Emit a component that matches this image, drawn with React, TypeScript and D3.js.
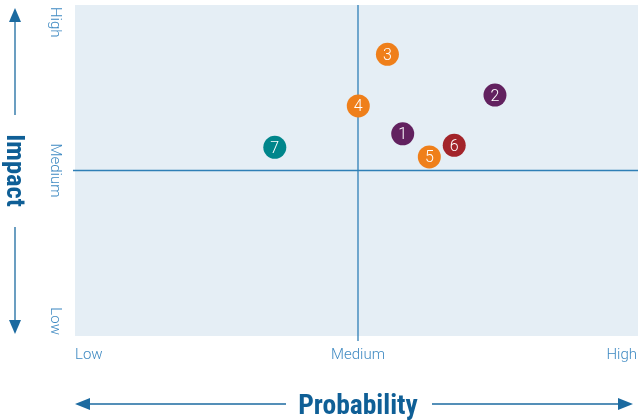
import React from "react";
import * as d3 from "d3";

const riskIds = ["1", "2", "3", "4", "5", "6", "7"];
const probability = [0.579, 0.742, 0.552, 0.5005, 0.626, 0.67, 0.353];
const impact = [0.611, 0.728, 0.851, 0.695, 0.541, 0.576, 0.57];
const riskColors = ["#62215f", "#62215f", "#ef7f1a", "#ef7f1a", "#ef7f1a", "#a3242a", "#00868b"];
const levelLabels = ["Low", "Medium", "High"];
const levelValues = [0, 0.5, 1];

const W = 638;
const H = 420;
const left = 75;
const right = 641;
const top = 5;
const bottom = 336;

export default function App() {
  const x = d3.scaleLinear().domain([0, 1]).range([left, right]);
  const y = d3.scaleLinear().domain([0, 1]).range([bottom, top]);
  const lineColor = "#2f7fb6";
  const tickColor = "#3f8ac2";
  const titleColor = "#0f5f96";
  const tickFont = "Roboto, 'Liberation Sans', sans-serif";
  const titleFont = "'Liberation Sans Narrow', 'Roboto Condensed', 'Arial Narrow', 'Liberation Sans', sans-serif";

  const xMid = x(0.5);
  const yMid = y(0.5);
  const arrowCol = "#1b6aa0";

  return (
    <svg width={W} height={H} style={{ position: "fixed", left: 0, top: 0 }}>
      <rect x={left} y={top} width={right - left} height={bottom - top} fill="#e5eef5" />
      {/* crosshair */}
      <line x1={xMid} x2={xMid} y1={top} y2={bottom + 5} stroke={lineColor} strokeWidth={1.3} />
      <line x1={left - 2} x2={right} y1={yMid} y2={yMid} stroke={lineColor} strokeWidth={1.3} />

      {/* x tick labels */}
      {levelLabels.map((l, i) => (
        <text
          key={"x" + l}
          x={i === 2 ? W - 1 : x(levelValues[i])}
          y={359}
          fill={tickColor}
          fontFamily={tickFont}
          fontWeight={300}
          fontSize={15}
          textAnchor={i === 0 ? "start" : i === 1 ? "middle" : "end"}
        >
          {l}
        </text>
      ))}
      {/* y tick labels, rotated */}
      {levelLabels.map((l, i) => {
        const yy = i === 0 ? y(0) - 1 : i === 2 ? y(1) + 2 : y(0.5);
        return (
          <text
            key={"y" + l}
            transform={`translate(50.5, ${yy}) rotate(90)`}
            fill={tickColor}
            fontFamily={tickFont}
            fontWeight={300}
            fontSize={15}
            textAnchor={i === 0 ? "end" : i === 1 ? "middle" : "start"}
          >
            {l}
          </text>
        );
      })}

      {/* points */}
      {riskIds.map((id, i) => (
        <g key={id} transform={`translate(${x(probability[i])}, ${y(impact[i])})`}>
          <circle r={11.5} fill={riskColors[i]} />
          <text
            y={5.5}
            textAnchor="middle"
            fill="#ffffff"
            fontFamily={tickFont}
            fontWeight={300}
            fontSize={16}
          >
            {id}
          </text>
        </g>
      ))}

      {/* Probability title + arrows */}
      <text
        x={xMid}
        y={414}
        textAnchor="middle"
        fill={titleColor}
        fontFamily={titleFont}
        fontWeight={700}
        fontSize={27.5}
      >
        Probability
      </text>
      <line x1={88} x2={286} y1={404} y2={404} stroke={arrowCol} strokeWidth={1.3} />
      <path d={`M75,404 L90,398 L90,410 Z`} fill={arrowCol} />
      <line x1={432} x2={620} y1={404} y2={404} stroke={arrowCol} strokeWidth={1.3} />
      <path d={`M633,404 L618,398 L618,410 Z`} fill={arrowCol} />

      {/* Impact title + arrows */}
      <text
        transform={`translate(7, ${yMid}) rotate(90)`}
        textAnchor="middle"
        fill={titleColor}
        fontFamily={titleFont}
        fontWeight={700}
        fontSize={26.5}
      >
        Impact
      </text>
      <line x1={15} x2={15} y1={20} y2={115} stroke={arrowCol} strokeWidth={1.3} />
      <path d={`M15,8 L9,22 L21,22 Z`} fill={arrowCol} />
      <line x1={15} x2={15} y1={227} y2={322} stroke={arrowCol} strokeWidth={1.3} />
      <path d={`M15,334 L9,320 L21,320 Z`} fill={arrowCol} />
    </svg>
  );
}
